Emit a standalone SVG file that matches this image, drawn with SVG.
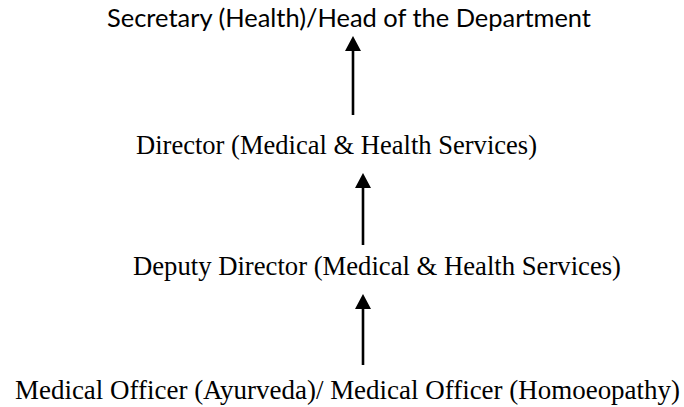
<svg xmlns="http://www.w3.org/2000/svg" width="684" height="407" viewBox="0 0 684 407">
<style>
.sans{font-family:Lato,"Open Sans","Liberation Sans",sans-serif;font-size:24.5px;fill:#000}
.serif{font-family:"Liberation Serif","Times New Roman",serif;font-size:26.6px;fill:#000}
.conn{stroke:#000;stroke-width:2.6;fill:none;marker-end:url(#ah)}
</style>
<defs>
<marker id="ah" markerUnits="userSpaceOnUse" viewBox="0 0 15 16" markerWidth="15" markerHeight="16" refX="7" refY="8" orient="auto">
<path d="M0,0 L15,8 L0,16 Z" fill="#000"/>
</marker>
</defs>
<rect width="684" height="407" fill="#fff"/>
<g id="connectors">
<line class="conn" x1="353" y1="115" x2="353" y2="44"/>
<line class="conn" x1="363" y1="245" x2="363" y2="181"/>
<line class="conn" x1="363" y1="365" x2="363" y2="302"/>
</g>
<g id="node-secretary"><text class="sans" x="107" y="27" textLength="484" lengthAdjust="spacingAndGlyphs">Secretary (Health)/Head of the Department</text></g>
<g id="node-director"><text class="serif" x="136" y="154" textLength="401" lengthAdjust="spacingAndGlyphs">Director (Medical &amp; Health Services)</text></g>
<g id="node-deputy"><text class="serif" x="133" y="275" textLength="488" lengthAdjust="spacingAndGlyphs">Deputy Director (Medical &amp; Health Services)</text></g>
<g id="node-mo"><text class="serif" x="15" y="399" textLength="665" lengthAdjust="spacingAndGlyphs">Medical Officer (Ayurveda)/ Medical Officer (Homoeopathy)</text></g>
</svg>
